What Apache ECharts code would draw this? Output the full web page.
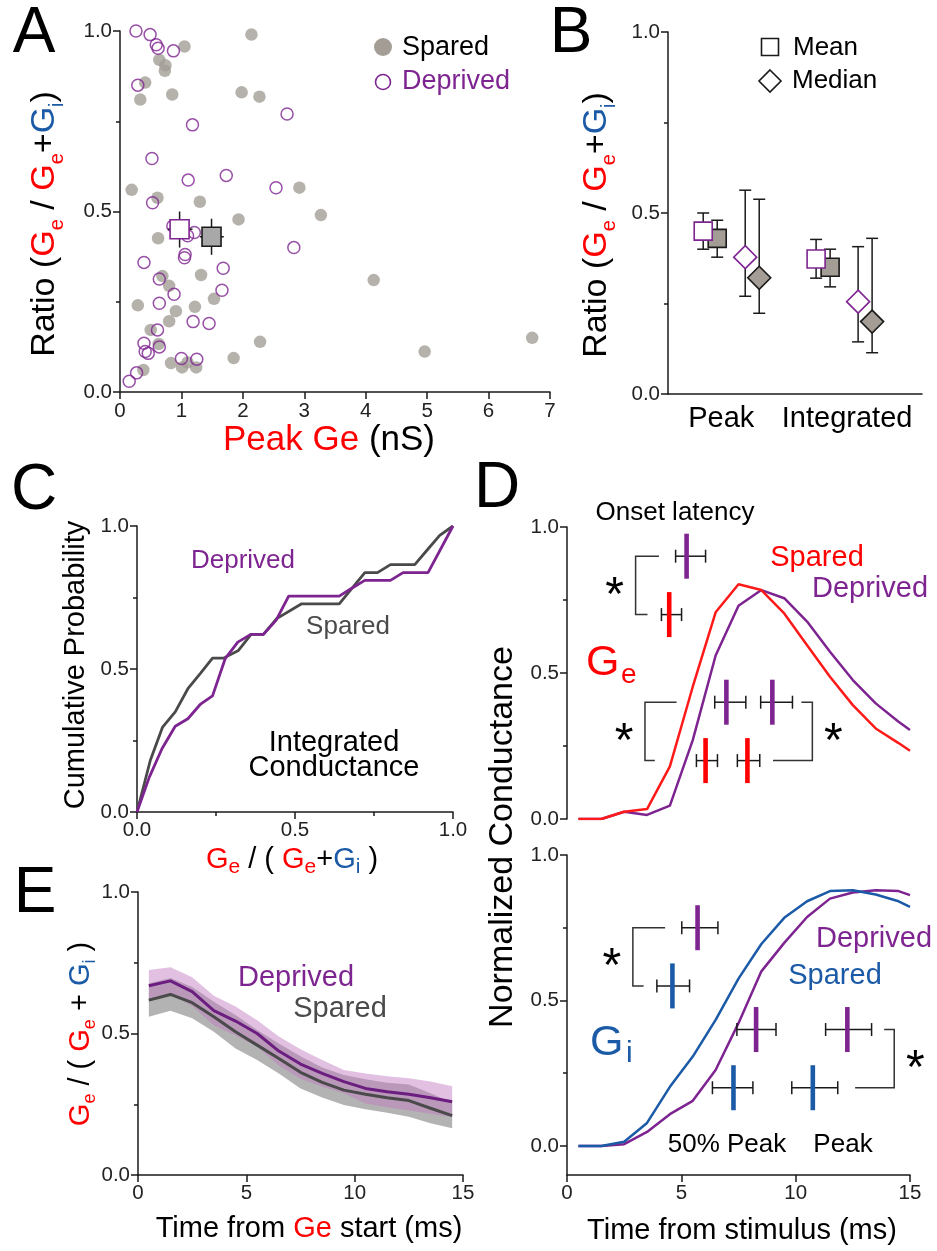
<!DOCTYPE html>
<html>
<head>
<meta charset="utf-8">
<title>Ge / Gi ratio figure</title>
<script src="https://cdn.jsdelivr.net/npm/echarts@6/dist/echarts.min.js"></script>
<style>
  html, body { margin: 0; padding: 0; background: #fff; }
  #main { width: 937px; height: 1251px; }
</style>
</head>
<body>
<div id="main"></div>
<script>
// ---------- data ----------
// A: peak Ge (nS) vs Ge/(Ge+Gi), one point per cell
const sparedA = [[2.14,0.99],[1.05,0.957],[0.64,0.92],[0.74,0.905],[0.73,0.89],[0.41,0.857],[0.33,0.81],
  [0.85,0.824],[1.98,0.83],[2.27,0.818],[0.19,0.56],[0.61,0.538],[1.30,0.527],[2.92,0.566],[3.27,0.49],
  [1.93,0.478],[0.62,0.426],[4.13,0.31],[1.32,0.324],[0.69,0.321],[0.80,0.294],[1.53,0.258],[1.22,0.236],
  [0.29,0.24],[0.91,0.224],[0.80,0.196],[0.50,0.172],[0.63,0.133],[2.28,0.139],[1.85,0.094],[0.83,0.08],
  [1.10,0.082],[1.01,0.068],[1.24,0.068],[0.38,0.061],[4.96,0.112],[6.71,0.15]];
const deprivedA = [[0.26,1.0],[0.49,0.99],[0.59,0.962],[0.62,0.952],[0.87,0.945],[0.29,0.85],[1.18,0.74],
  [0.52,0.647],[1.11,0.587],[1.73,0.60],[2.54,0.566],[2.72,0.77],[0.53,0.524],[1.21,0.442],[1.10,0.433],
  [2.83,0.40],[1.06,0.381],[1.05,0.372],[0.39,0.359],[1.68,0.343],[0.64,0.313],[1.66,0.282],[0.88,0.271],
  [0.64,0.246],[1.19,0.195],[1.45,0.19],[0.61,0.172],[0.39,0.135],[0.64,0.125],[0.46,0.107],[0.41,0.112],
  [1.00,0.093],[1.25,0.091],[0.27,0.053],[0.15,0.03],[0.86,0.46]];
// A: mean +/- sem  [x, y, xLow, xHigh, yLow, yHigh]
const meanSparedA = [1.49, 0.43, 1.30, 1.69, 0.38, 0.48];
const meanDeprivedA = [0.97, 0.451, 0.78, 1.18, 0.40, 0.50];

// B: summary per measure
const bGroups = ['Peak', 'Integrated'];
const bMeanDeprived = [0.45, 0.373],   bMeanDeprivedLo = [0.40, 0.32],   bMeanDeprivedHi = [0.50, 0.427];
const bMeanSpared = [0.43, 0.35],      bMeanSparedLo = [0.378, 0.296],   bMeanSparedHi = [0.48, 0.40];
const bMedianDeprived = [0.378, 0.255], bMedianDeprivedLo = [0.27, 0.144], bMedianDeprivedHi = [0.563, 0.407];
const bMedianSpared = [0.321, 0.20],   bMedianSparedLo = [0.223, 0.114], bMedianSparedHi = [0.538, 0.43];

// C: cumulative distributions of integrated Ge/(Ge+Gi)
const cSparedX = [0,0.042,0.081,0.121,0.161,0.2,0.239,0.274,0.321,0.361,0.4,0.442,0.521,0.64,0.721,0.761,0.802,0.879,0.919,0.958,1];
const cSparedY = [0,0.18,0.297,0.35,0.431,0.484,0.538,0.538,0.565,0.621,0.621,0.676,0.728,0.728,0.837,0.837,0.865,0.865,0.917,0.967,1];
const cDeprivedX = [0,0.039,0.079,0.121,0.161,0.2,0.239,0.279,0.319,0.36,0.4,0.44,0.48,0.64,0.682,0.721,0.802,0.842,0.921,1];
const cDeprivedY = [0,0.122,0.221,0.3,0.326,0.376,0.406,0.536,0.594,0.621,0.621,0.67,0.755,0.755,0.784,0.81,0.81,0.837,0.837,1];

// D: normalized conductance vs time from stimulus (ms)
const tD = [0.5,1.5,2.5,3.5,4.5,5.5,6.5,7.5,8.5,9.5,10.5,11.5,12.5,13.5,14.5,15];
const geSpared   = [0,0,0.025,0.034,0.18,0.453,0.708,0.804,0.784,0.704,0.595,0.487,0.39,0.31,0.26,0.234];
const geDeprived = [0,0,0.025,0.014,0.046,0.27,0.56,0.73,0.784,0.756,0.676,0.573,0.476,0.396,0.333,0.305];
const giSpared   = [0,0,0.014,0.079,0.203,0.307,0.433,0.575,0.694,0.784,0.841,0.876,0.879,0.864,0.841,0.822];
const giDeprived = [0,0,0.006,0.048,0.109,0.155,0.261,0.422,0.60,0.698,0.787,0.85,0.871,0.879,0.876,0.862];
// D: timing, [mean, low, high] in ms
const geOnsetDeprived = [5.23, 4.75, 6.06], geOnsetSpared = [4.47, 4.13, 5.01];
const geHalfDeprived = [6.97, 6.46, 7.82],  geHalfSpared = [6.06, 5.66, 6.58];
const gePeakDeprived = [8.98, 8.47, 9.86],  gePeakSpared = [7.89, 7.45, 8.43];
const giOnsetDeprived = [5.71, 5.02, 6.60], giOnsetSpared = [4.61, 3.93, 5.36];
const giHalfDeprived = [8.27, 7.43, 9.14],  giHalfSpared = [7.28, 6.36, 8.13];
const giPeakDeprived = [12.26, 11.31, 13.32], giPeakSpared = [10.75, 9.83, 11.84];

// E: Ge/(Ge+Gi) vs time from Ge start, mean and sem
const tE = [0.5,1.5,2.5,3.5,4.5,5.5,6.5,7.5,8.5,9.5,10.5,11.5,12.5,13.5,14.5];
const eDeprived = [0.669,0.686,0.648,0.581,0.544,0.5,0.438,0.392,0.359,0.33,0.306,0.294,0.285,0.273,0.259];
const eDeprivedSem = [0.055,0.048,0.051,0.052,0.051,0.047,0.051,0.052,0.047,0.041,0.053,0.055,0.057,0.057,0.055];
const eSpared = [0.618,0.638,0.609,0.559,0.506,0.459,0.412,0.363,0.327,0.30,0.285,0.273,0.263,0.236,0.21];
const eSparedSem = [0.059,0.058,0.055,0.053,0.059,0.053,0.053,0.057,0.053,0.053,0.053,0.053,0.057,0.053,0.045];

// ---------- styling ----------
const FONT = "'Liberation Sans', Arial, sans-serif";
const RED = '#ff0000', BLUE = '#1b5aa6', PURPLE = '#7e2490', GREY = '#a39d96', DARK = '#4a4a4a', INK = '#1a1a1a';
const TICK_FONT = 20.5;

const chart = echarts.init(document.getElementById('main'));

const tickLabel = (fmt) => ({ formatter: fmt, fontSize: TICK_FONT, color: '#222', fontFamily: FONT, margin: 8 });
function valueAxis(gridIndex, min, max, interval, extra) {
  return Object.assign({
    type: 'value', gridIndex, min, max, interval,
    axisLine: { show: true, onZero: false, lineStyle: { color: INK, width: 1.5 } },
    axisTick: { length: 7, lineStyle: { color: INK, width: 1.5 } },
    minorTick: { show: false },
    splitLine: { show: false },
    axisLabel: tickLabel(null)
  }, extra || {});
}
const minor = { show: true, splitNumber: 2, length: 4, lineStyle: { color: INK, width: 1.5 } };
const oneDec = v => v.toFixed(1);

function pairs(xs, ys) { return xs.map((x, i) => [x, ys[i]]); }

// mean square with error cross (panel A)
function meanCross(d, fill, stroke) {
  return {
    type: 'custom', xAxisIndex: 0, yAxisIndex: 0, z: 5, data: [d],
    renderItem(params, api) {
      const p = api.coord([api.value(0), api.value(1)]);
      const x0 = api.coord([api.value(2), api.value(1)])[0];
      const x1 = api.coord([api.value(3), api.value(1)])[0];
      const y0 = api.coord([api.value(0), api.value(4)])[1];
      const y1 = api.coord([api.value(0), api.value(5)])[1];
      const h = 9.5, ls = { stroke: INK, lineWidth: 1.5 };
      return { type: 'group', children: [
        { type: 'line', shape: { x1: x0, y1: p[1], x2: x1, y2: p[1] }, style: ls },
        { type: 'line', shape: { x1: p[0], y1: y0, x2: p[0], y2: y1 }, style: ls },
        { type: 'rect', shape: { x: p[0] - h, y: p[1] - h, width: 2 * h, height: 2 * h },
          style: { fill, stroke, lineWidth: 1.6 } }
      ] };
    }
  };
}

// summary symbol with error bar (panel B); dx = pixel dodge within group
function statSeries(vals, lo, hi, dx, shape, fill, stroke, z) {
  return {
    type: 'custom', xAxisIndex: 1, yAxisIndex: 1, z,
    data: vals.map((v, i) => [i, v, lo[i], hi[i]]),
    renderItem(params, api) {
      const c = api.coord([api.value(0), api.value(1)]);
      const x = c[0] + dx;
      const yl = api.coord([api.value(0), api.value(2)])[1];
      const yh = api.coord([api.value(0), api.value(3)])[1];
      const ls = { stroke: INK, lineWidth: 1.5 };
      const kids = [
        { type: 'line', shape: { x1: x, y1: yl, x2: x, y2: yh }, style: ls },
        { type: 'line', shape: { x1: x - 6, y1: yl, x2: x + 6, y2: yl }, style: ls },
        { type: 'line', shape: { x1: x - 6, y1: yh, x2: x + 6, y2: yh }, style: ls }
      ];
      if (shape === 'square') {
        kids.push({ type: 'rect', shape: { x: x - 9, y: c[1] - 9, width: 18, height: 18 },
          style: { fill, stroke, lineWidth: 1.6 } });
      } else {
        const r = 11.5;
        kids.push({ type: 'polygon', shape: { points: [[x, c[1] - r], [x + r, c[1]], [x, c[1] + r], [x - r, c[1]]] },
          style: { fill, stroke, lineWidth: 1.6 } });
      }
      return { type: 'group', children: kids };
    }
  };
}

// timing marker: coloured bar at mean with black error bar (panel D)
function marker(xi, yi, m, row, color) {
  return {
    type: 'custom', xAxisIndex: xi, yAxisIndex: yi, z: 6, data: [[m[0], row, m[1], m[2]]],
    renderItem(params, api) {
      const c = api.coord([api.value(0), api.value(1)]);
      const xl = api.coord([api.value(2), api.value(1)])[0];
      const xh = api.coord([api.value(3), api.value(1)])[0];
      const ls = { stroke: INK, lineWidth: 1.5 };
      return { type: 'group', children: [
        { type: 'line', shape: { x1: xl, y1: c[1], x2: xh, y2: c[1] }, style: ls },
        { type: 'line', shape: { x1: xl, y1: c[1] - 6.5, x2: xl, y2: c[1] + 6.5 }, style: ls },
        { type: 'line', shape: { x1: xh, y1: c[1] - 6.5, x2: xh, y2: c[1] + 6.5 }, style: ls },
        { type: 'rect', shape: { x: c[0] - 2.3, y: c[1] - 22.5, width: 4.6, height: 45 }, style: { fill: color } }
      ] };
    }
  };
}

// significance brackets: [x, yTop, yBottom, topEndX, bottomEndX, side]
function brackets(xi, yi, list) {
  return {
    type: 'custom', xAxisIndex: xi, yAxisIndex: yi, z: 6, data: list,
    renderItem(params, api) {
      const a = api.coord([api.value(0), api.value(1)]);
      const b = api.coord([api.value(0), api.value(2)]);
      const te = api.coord([api.value(3), api.value(1)])[0];
      const be = api.coord([api.value(4), api.value(2)])[0];
      const side = api.value(5);
      return { type: 'group', children: [
        { type: 'polyline', shape: { points: [[te, a[1]], [a[0], a[1]], [a[0], b[1]], [be, b[1]]] },
          style: { stroke: '#333', lineWidth: 1.5, fill: null } },
        { type: 'text', style: { text: '*', x: a[0] + side * 21, y: (a[1] + b[1]) / 2 + 11,
          font: '48px ' + FONT, fill: '#000', align: 'center', verticalAlign: 'middle' } }
      ] };
    }
  };
}

// shaded sem band (panel E)
function band(t, m, s, color, z) {
  return {
    type: 'custom', xAxisIndex: 5, yAxisIndex: 6, z, silent: true, data: [[t[0], m[0]]],
    renderItem(params, api) {
      const up = t.map((x, i) => api.coord([x, m[i] + s[i]]));
      const lo = t.map((x, i) => api.coord([x, m[i] - s[i]])).reverse();
      return { type: 'polygon', shape: { points: up.concat(lo) }, style: { fill: color } };
    }
  };
}

function line(xi, yi, data, color, width, z) {
  return { type: 'line', xAxisIndex: xi, yAxisIndex: yi, data, symbol: 'none', z: z || 3,
    lineStyle: { color, width } };
}

// ---------- text helpers ----------
function rich(size, sub, lh) {
  const base = { fontSize: size, fontFamily: FONT, lineHeight: lh };
  const s = { fontSize: sub, fontFamily: FONT, lineHeight: sub, verticalAlign: 'bottom' };
  return {
    k: Object.assign({ fill: '#000' }, base), r: Object.assign({ fill: RED }, base),
    b: Object.assign({ fill: BLUE }, base), rs: Object.assign({ fill: RED }, s),
    bs: Object.assign({ fill: BLUE }, s)
  };
}
function txt(x, y, text, size, color, align, rotate) {
  return { type: 'text', x, y, z: 100, rotation: rotate ? Math.PI / 2 : 0,
    style: { text, font: size + 'px ' + FONT, fill: color, align: align || 'center', verticalAlign: 'middle' } };
}
function richTxt(x, y, text, styles, rotate) {
  return { type: 'text', x, y, z: 100, rotation: rotate ? Math.PI / 2 : 0,
    style: { text, rich: styles, align: 'center', verticalAlign: 'middle' } };
}
const ratioTitle = '{k|Ratio (}{r|G}{rs|e}{k| / }{r|G}{rs|e}{k|+}{b|G}{bs|i}{k|)}';

const graphics = [
  txt(34, 34, 'A', 64, '#000'), txt(571, 34, 'B', 64, '#000'), txt(34, 491, 'C', 64, '#000'),
  txt(497, 489, 'D', 64, '#000'), txt(35, 894, 'E', 64, '#000'),
  // A
  richTxt(45, 224, ratioTitle, rich(34, 20, 44), true),
  richTxt(329, 440, '{r|Peak Ge }{k|(nS)}', rich(35, 20, 40), false),
  { type: 'circle', z: 100, shape: { cx: 383, cy: 47, r: 9 }, style: { fill: GREY } },
  txt(402, 48, 'Spared', 27, '#000', 'left'),
  { type: 'circle', z: 100, shape: { cx: 383, cy: 82, r: 7.5 }, style: { fill: '#fff', stroke: PURPLE, lineWidth: 1.6 } },
  txt(402, 82, 'Deprived', 27, PURPLE, 'left'),
  // B
  richTxt(597, 225, ratioTitle, rich(34, 20, 44), true),
  { type: 'rect', z: 100, shape: { x: 761.5, y: 38.5, width: 17, height: 17 }, style: { fill: '#fff', stroke: INK, lineWidth: 1.6 } },
  txt(793, 48, 'Mean', 26, '#000', 'left'),
  { type: 'polygon', z: 100, shape: { points: [[770, 70], [781, 81], [770, 92], [759, 81]] }, style: { fill: '#fff', stroke: INK, lineWidth: 1.6 } },
  txt(792, 81, 'Median', 26, '#000', 'left'),
  // C
  txt(76, 665, 'Cumulative Probability', 29, '#000', 'center', true),
  richTxt(292, 860, '{r|G}{rs|e}{k| / ( }{r|G}{rs|e}{k|+}{b|G}{bs|i}{k| )}', rich(29, 21, 36), false),
  txt(243, 561, 'Deprived', 26, PURPLE),
  txt(348, 627, 'Spared', 26, DARK),
  txt(334, 743, 'Integrated', 29, '#000'),
  txt(334, 768, 'Conductance', 29, '#000'),
  // D
  txt(503, 837, 'Normalized Conductance', 34, '#000', 'center', true),
  txt(675, 513, 'Onset latency', 26, '#000'),
  txt(817, 558, 'Spared', 29, RED),
  txt(870, 589, 'Deprived', 29, PURPLE),
  txt(586, 663, 'G', 43, RED, 'left'),
  txt(621, 675, 'e', 28, RED, 'left'),
  txt(874, 939, 'Deprived', 29, PURPLE),
  txt(835, 976, 'Spared', 29, BLUE),
  txt(590, 1043, 'G', 43, BLUE, 'left'),
  txt(626, 1054, 'i', 30, BLUE, 'left'),
  txt(727, 1145, '50% Peak', 26, '#000'),
  txt(843, 1145, 'Peak', 26, '#000'),
  txt(742, 1231, 'Time from stimulus (ms)', 29, '#000'),
  // E
  richTxt(81, 1034, '{r|G}{rs|e}{k| / ( }{r|G}{rs|e}{k| + }{b|G}{bs|i}{k| )}', rich(29, 18, 36), true),
  richTxt(309, 1229, '{k|Time from }{r|Ge}{k| start (ms)}', rich(29, 18, 36), false),
  txt(296, 978, 'Deprived', 29, PURPLE),
  txt(340, 1009, 'Spared', 29, DARK)
];

// ---------- option ----------
const option = {
  animation: false,
  textStyle: { fontFamily: FONT },
  grid: [
    { left: 120, top: 31, width: 430, height: 361 },   // A
    { left: 668, top: 32, width: 254, height: 362 },   // B
    { left: 137, top: 526, width: 316, height: 286 },  // C
    { left: 567, top: 527, width: 343, height: 292 },  // D top
    { left: 567, top: 855, width: 343, height: 320 },  // D bottom
    { left: 138, top: 892, width: 325, height: 283 }   // E
  ],
  xAxis: [
    valueAxis(0, 0, 7, 1, { axisLabel: Object.assign(tickLabel(null), { margin: 9 }) }),
    valueAxis(1, -0.56, 1.69, null, {
      axisTick: { show: false },
      axisLabel: {
        customValues: [0, 1], margin: 10,
        formatter: v => (Math.round(v) === 0 ? '{p|' : '{q|') + bGroups[Math.round(v)] + '}',
        rich: {
          p: { fontSize: 29, color: '#000', fontFamily: FONT, padding: [0, 20, 0, 0] },
          q: { fontSize: 29, color: '#000', fontFamily: FONT, padding: [0, 0, 0, 6] }
        }
      }
    }),
    valueAxis(2, 0, 1, 0.5, { minorTick: minor, axisLabel: tickLabel(oneDec) }),
    valueAxis(3, 0, 15, 5, { show: false }),
    valueAxis(4, 0, 15, 5, {}),
    valueAxis(5, 0, 15, 5, {})
  ],
  yAxis: [
    valueAxis(0, 0, 1, 0.5, { minorTick: minor, axisLabel: tickLabel(oneDec) }),
    valueAxis(1, 0, 1, 0.5, { minorTick: minor, axisLabel: tickLabel(oneDec) }),
    valueAxis(2, 0, 1, 0.5, { minorTick: minor, axisLabel: tickLabel(oneDec) }),
    valueAxis(3, 0, 1, 0.5, { minorTick: minor, axisLabel: tickLabel(oneDec) }),
    valueAxis(4, -0.1, 1, null, {
      position: 'left',
      axisTick: { customValues: [0, 0.5, 1], length: 7, lineStyle: { color: INK, width: 1.5 } },
      axisLabel: Object.assign(tickLabel(oneDec), { customValues: [0, 0.5, 1] })
    }),
    // short minor ticks for the lower D axis (same side as the main axis)
    valueAxis(4, -0.1, 1, null, {
      position: 'left', offset: 0,
      axisLine: { show: false, onZero: false },
      axisTick: { customValues: [0.25, 0.75], length: 4, lineStyle: { color: INK, width: 1.5 } },
      axisLabel: { show: false }
    }),
    valueAxis(5, 0, 1, 0.5, { minorTick: minor, axisLabel: tickLabel(oneDec) })
  ],
  series: [
    // A
    { type: 'scatter', xAxisIndex: 0, yAxisIndex: 0, data: sparedA, symbolSize: 12.5, itemStyle: { color: GREY }, z: 2 },
    { type: 'scatter', xAxisIndex: 0, yAxisIndex: 0, data: deprivedA, symbolSize: 12,
      itemStyle: { color: 'rgba(255,255,255,0)', borderColor: PURPLE, borderWidth: 1.5 }, z: 3 },
    meanCross(meanSparedA, '#a8a8a8', INK),
    meanCross(meanDeprivedA, '#fff', PURPLE),
    // B
    statSeries(bMeanSpared, bMeanSparedLo, bMeanSparedHi, -14, 'square', '#a39d96', INK, 3),
    statSeries(bMeanDeprived, bMeanDeprivedLo, bMeanDeprivedHi, -28, 'square', '#fff', PURPLE, 4),
    statSeries(bMedianDeprived, bMedianDeprivedLo, bMedianDeprivedHi, 14, 'diamond', '#fff', PURPLE, 3),
    statSeries(bMedianSpared, bMedianSparedLo, bMedianSparedHi, 28, 'diamond', '#a39d96', INK, 4),
    // C
    line(2, 2, pairs(cSparedX, cSparedY), DARK, 2.8, 3),
    line(2, 2, pairs(cDeprivedX, cDeprivedY), PURPLE, 2.8, 4),
    // D top (Ge)
    line(3, 3, pairs(tD, geDeprived), PURPLE, 2.5, 3),
    line(3, 3, pairs(tD, geSpared), '#ff1a1a', 2.5, 4),
    marker(3, 3, geOnsetDeprived, 0.9, PURPLE), marker(3, 3, geOnsetSpared, 0.7, RED),
    marker(3, 3, geHalfDeprived, 0.4, PURPLE), marker(3, 3, geHalfSpared, 0.2, RED),
    marker(3, 3, gePeakDeprived, 0.4, PURPLE), marker(3, 3, gePeakSpared, 0.2, RED),
    brackets(3, 3, [[3.0, 0.9, 0.7, 4.02, 3.52, -1], [3.41, 0.4, 0.2, 4.79, 3.84, -1], [10.73, 0.4, 0.2, 10.25, 9.01, 1]]),
    // D bottom (Gi)
    line(4, 4, pairs(tD, giDeprived), PURPLE, 2.5, 3),
    line(4, 4, pairs(tD, giSpared), BLUE, 2.5, 4),
    marker(4, 4, giOnsetDeprived, 0.75, PURPLE), marker(4, 4, giOnsetSpared, 0.55, BLUE),
    marker(4, 4, giHalfDeprived, 0.4, PURPLE), marker(4, 4, giHalfSpared, 0.2, BLUE),
    marker(4, 4, giPeakDeprived, 0.4, PURPLE), marker(4, 4, giPeakSpared, 0.2, BLUE),
    brackets(4, 4, [[2.88, 0.75, 0.55, 4.29, 3.35, -1], [14.31, 0.4, 0.2, 13.87, 12.6, 1]]),
    // E
    band(tE, eSpared, eSparedSem, '#b3b3b3', 1),
    band(tE, eDeprived, eDeprivedSem, 'rgba(192,124,192,0.48)', 2),
    line(5, 6, pairs(tE, eSpared), DARK, 3, 3),
    line(5, 6, pairs(tE, eDeprived), '#6b1d80', 3, 4)
  ],
  graphic: { elements: graphics }
};
chart.setOption(option);
</script>
</body>
</html>
